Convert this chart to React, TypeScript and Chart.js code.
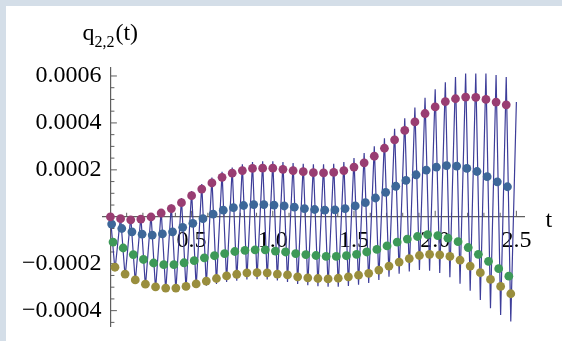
import React, { useEffect, useRef } from "react";
import { Chart, registerables } from "chart.js";

Chart.register(...registerables);

// ---- data ----
const sampleStep = 0.0625; // stroboscopic sampling period in t
const bluePhase = 0.0075;
const greenPhase = 0.016;
const olivePhase = 0.028;
const troughPhase = 0.028;

const purpleValues = [
  0, -0.08e-4, -0.13e-4, -0.10e-4, -0.01e-4, 0.16e-4, 0.35e-4, 0.60e-4, 0.90e-4, 1.18e-4,
  1.44e-4, 1.68e-4, 1.86e-4, 1.97e-4, 2.06e-4, 2.07e-4, 2.07e-4, 2.02e-4, 1.97e-4, 1.92e-4,
  1.88e-4, 1.87e-4, 1.89e-4, 1.97e-4, 2.12e-4, 2.30e-4, 2.58e-4, 2.92e-4, 3.28e-4, 3.68e-4,
  4.04e-4, 4.40e-4, 4.68e-4, 4.91e-4, 5.03e-4, 5.10e-4, 5.09e-4, 5.00e-4, 4.89e-4, 4.77e-4,
];
const blueValues = [
  -0.31e-4, -0.50e-4, -0.64e-4, -0.74e-4, -0.78e-4, -0.73e-4, -0.64e-4, -0.45e-4, -0.28e-4, -0.08e-4,
  0.11e-4, 0.28e-4, 0.39e-4, 0.48e-4, 0.52e-4, 0.52e-4, 0.50e-4, 0.46e-4, 0.41e-4, 0.35e-4,
  0.31e-4, 0.28e-4, 0.29e-4, 0.35e-4, 0.46e-4, 0.60e-4, 0.80e-4, 1.04e-4, 1.30e-4, 1.55e-4,
  1.79e-4, 1.99e-4, 2.12e-4, 2.18e-4, 2.16e-4, 2.06e-4, 1.93e-4, 1.71e-4, 1.49e-4, 1.28e-4,
];
const greenValues = [
  -1.08e-4, -1.33e-4, -1.61e-4, -1.82e-4, -1.97e-4, -2.04e-4, -2.04e-4, -1.96e-4, -1.87e-4, -1.75e-4,
  -1.66e-4, -1.57e-4, -1.48e-4, -1.43e-4, -1.41e-4, -1.41e-4, -1.46e-4, -1.50e-4, -1.57e-4, -1.61e-4,
  -1.65e-4, -1.69e-4, -1.69e-4, -1.66e-4, -1.60e-4, -1.50e-4, -1.39e-4, -1.24e-4, -1.08e-4, -0.95e-4,
  -0.84e-4, -0.76e-4, -0.80e-4, -0.91e-4, -1.06e-4, -1.31e-4, -1.60e-4, -1.90e-4, -2.21e-4, -2.53e-4,
];
const oliveValues = [
  -2.15e-4, -2.44e-4, -2.69e-4, -2.87e-4, -2.99e-4, -3.04e-4, -3.04e-4, -2.97e-4, -2.86e-4, -2.74e-4,
  -2.63e-4, -2.52e-4, -2.45e-4, -2.39e-4, -2.38e-4, -2.39e-4, -2.44e-4, -2.48e-4, -2.56e-4, -2.60e-4,
  -2.63e-4, -2.65e-4, -2.62e-4, -2.56e-4, -2.49e-4, -2.41e-4, -2.27e-4, -2.10e-4, -1.93e-4, -1.78e-4,
  -1.65e-4, -1.60e-4, -1.62e-4, -1.69e-4, -1.85e-4, -2.10e-4, -2.38e-4, -2.67e-4, -2.97e-4, -3.28e-4,
];
// oscillating curve: local maxima and minima of each period
const linePeaks = [
  0, 0.02e-4, 0.0, 0.03e-4, 0.12e-4, 0.30e-4, 0.52e-4, 0.80e-4, 1.10e-4, 1.40e-4,
  1.67e-4, 1.92e-4, 2.10e-4, 2.24e-4, 2.33e-4, 2.36e-4, 2.36e-4, 2.33e-4, 2.29e-4, 2.26e-4,
  2.24e-4, 2.24e-4, 2.26e-4, 2.33e-4, 2.50e-4, 2.72e-4, 3.00e-4, 3.35e-4, 3.75e-4, 4.20e-4,
  4.66e-4, 5.07e-4, 5.43e-4, 5.73e-4, 5.96e-4, 6.10e-4, 6.10e-4, 6.10e-4, 6.04e-4, 5.96e-4,
];
const lineTroughs = [
  -2.28e-4, -2.57e-4, -2.80e-4, -2.99e-4, -3.12e-4, -3.17e-4, -3.17e-4, -3.10e-4, -3.02e-4, -2.94e-4,
  -2.86e-4, -2.78e-4, -2.72e-4, -2.67e-4, -2.66e-4, -2.67e-4, -2.71e-4, -2.78e-4, -2.86e-4, -2.92e-4,
  -2.96e-4, -2.98e-4, -2.98e-4, -2.95e-4, -2.90e-4, -2.82e-4, -2.69e-4, -2.55e-4, -2.43e-4, -2.33e-4,
  -2.27e-4, -2.30e-4, -2.40e-4, -2.58e-4, -2.85e-4, -3.15e-4, -3.55e-4, -3.90e-4, -4.18e-4, -4.46e-4,
];
const lineEnd = { t: 2.5, q: 4.89e-4 };

const xTickValues = [0.5, 1.0, 1.5, 2.0, 2.5];
const xTickLabels = ["0.5", "1.0", "1.5", "2.0", "2.5"];
const yTickValues = [-0.0004, -0.0002, 0.0002, 0.0004, 0.0006];
const yTickLabels = ["\u22120.0004", "\u22120.0002", "0.0002", "0.0004", "0.0006"];
const xMinorStep = 0.1;
const yMinorStep = 0.00005;

// ---- style ----
const bandColor = "#d4dee8";
const axisColor = "rgb(95,95,95)";
const lineColor = "rgb(61,61,153)";
const purpleColor = "rgb(153,61,114)";
const blueColor = "rgb(61,103,153)";
const greenColor = "rgb(61,153,88)";
const oliveColor = "rgb(153,142,61)";
const serif = '"Liberation Serif", "Times New Roman", serif';

const X_MIN = -0.05, X_MAX = 2.55;
const Y_MIN = -0.000468, Y_MAX = 0.000634;

const decorPlugin = {
  id: "decor",
  beforeDatasetsDraw(chart: any) {
    const { ctx, scales } = chart;
    const x = scales.x, y = scales.y;
    const x0 = x.getPixelForValue(0);
    const y0 = y.getPixelForValue(0);
    ctx.save();
    ctx.strokeStyle = axisColor;
    ctx.lineWidth = 1;
    ctx.beginPath();
    // y ticks (pointing right)
    for (let v = -0.00045; v <= Y_MAX + 1e-12; v += yMinorStep) {
      if (Math.abs(v) < 1e-9) continue;
      const isMajor = yTickValues.some((m) => Math.abs(m - v) < 1e-9);
      const py = y.getPixelForValue(v);
      ctx.moveTo(x0, py);
      ctx.lineTo(x0 + (isMajor ? 6.5 : 4), py);
    }
    // x ticks (pointing up)
    for (let t = xMinorStep; t <= 2.5 + 1e-9; t += xMinorStep) {
      const isMajor = xTickValues.some((m) => Math.abs(m - t) < 1e-9);
      const px = x.getPixelForValue(t);
      ctx.moveTo(px, y0);
      ctx.lineTo(px, y0 - (isMajor ? 6 : 4));
    }
    ctx.stroke();
    ctx.restore();
  },
  afterDraw(chart: any) {
    const { ctx, scales } = chart;
    const x = scales.x, y = scales.y;
    ctx.save();
    ctx.fillStyle = "#000";
    ctx.textBaseline = "alphabetic";
    ctx.textAlign = "left";
    // y-axis label q_{2,2}(t)
    let lx = x.getPixelForValue(0) - 28;
    const by = y.getPixelForValue(Y_MAX) - 28;
    ctx.font = `24px ${serif}`;
    ctx.fillText("q", lx, by);
    lx += ctx.measureText("q").width;
    ctx.font = `16px ${serif}`;
    ctx.fillText("2,2", lx, by + 6.5);
    lx += ctx.measureText("2,2").width + 1;
    ctx.font = `24px ${serif}`;
    ctx.fillText("(t)", lx, by);
    // x-axis label t
    ctx.fillText("t", x.getPixelForValue(X_MAX) + 21, y.getPixelForValue(0) + 10);
    ctx.restore();
  },
};

export default function App() {
  const ref = useRef<HTMLCanvasElement | null>(null);

  useEffect(() => {
    if (!ref.current) return;
    const linePts: { x: number; y: number }[] = [];
    for (let k = 0; k < linePeaks.length; k++) {
      linePts.push({ x: k * sampleStep, y: linePeaks[k] });
      linePts.push({ x: k * sampleStep + troughPhase, y: lineTroughs[k] });
    }
    linePts.push({ x: lineEnd.t, y: lineEnd.q });

    const dots = (vals: number[], phase: number) =>
      vals.map((v, k) => ({ x: k * sampleStep + phase, y: v }));

    const dotDs = (data: any, color: string, order: number) => ({
      data,
      showLine: false,
      pointRadius: 4.4,
      pointBorderWidth: 0,
      pointBackgroundColor: color,
      pointBorderColor: color,
      order,
    });

    const tickFont = { family: serif, size: 24 };

    const chart = new Chart(ref.current, {
      type: "scatter",
      data: {
        datasets: [
          dotDs(dots(purpleValues, 0), purpleColor, 1),
          dotDs(dots(blueValues, bluePhase), blueColor, 2),
          dotDs(dots(greenValues, greenPhase), greenColor, 3),
          dotDs(dots(oliveValues, olivePhase), oliveColor, 4),
          {
            data: linePts,
            showLine: true,
            borderColor: lineColor,
            borderWidth: 1.2,
            pointRadius: 0,
            tension: 0,
            order: 10,
          } as any,
        ],
      },
      options: {
        animation: false,
        responsive: false,
        maintainAspectRatio: false,
        devicePixelRatio: 1,
        layout: { padding: { left: 96.3, right: 37.5, top: 62, bottom: 11 } },
        plugins: { legend: { display: false }, tooltip: { enabled: false } },
        scales: {
          x: {
            type: "linear",
            min: X_MIN,
            max: X_MAX,
            position: { y: 0 } as any,
            grid: { display: false, drawTicks: false },
            border: { display: true, color: axisColor, width: 1.2 },
            afterBuildTicks: (axis: any) => {
              axis.ticks = xTickValues.map((value) => ({ value }));
            },
            ticks: {
              padding: 10,
              color: "#000",
              font: tickFont,
              maxRotation: 0,
              autoSkip: false,
              callback: (_v: any, i: number) => xTickLabels[i],
            },
          },
          y: {
            type: "linear",
            min: Y_MIN,
            max: Y_MAX,
            position: { x: 0 } as any,
            grid: { display: false, drawTicks: false },
            border: { display: true, color: axisColor, width: 1.2 },
            ticks: { display: false },
          },
          yl: {
            type: "linear",
            axis: "y",
            min: Y_MIN,
            max: Y_MAX,
            position: { x: -0.055 } as any,
            grid: { display: false, drawTicks: false },
            border: { display: false },
            afterBuildTicks: (axis: any) => {
              axis.ticks = yTickValues.map((value) => ({ value }));
            },
            ticks: {
              padding: 0,
              color: "#000",
              font: tickFont,
              autoSkip: false,
              callback: (_v: any, i: number) => yTickLabels[i],
            },
          } as any,
        },
      },
      plugins: [decorPlugin],
    });
    return () => chart.destroy();
  }, []);

  return (
    <div
      style={{
        position: "fixed",
        left: 0,
        top: 0,
        width: 562,
        height: 341,
        background: bandColor,
        overflow: "hidden",
      }}
    >
      <canvas
        ref={ref}
        width={556}
        height={335}
        style={{ position: "absolute", left: 6, top: 6, width: 556, height: 335, background: "#fff" }}
      />
    </div>
  );
}
